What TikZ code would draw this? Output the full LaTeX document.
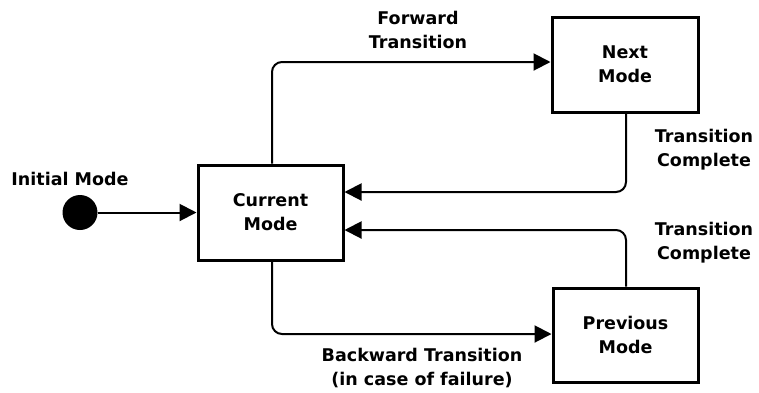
\documentclass[tikz,border=0pt]{standalone}
\usepackage{fontspec}
\setmainfont{DejaVu Sans}
\usetikzlibrary{arrows.meta}
\tikzset{
  modebox/.style={draw=black, line width=3pt, fill=white, align=center,
    font=\bfseries\fontsize{17.5}{24}\selectfont, inner sep=0pt},
  lbl/.style={align=center, font=\bfseries\fontsize{17.5}{24}\selectfont, inner sep=0pt},
  conn/.style={line width=2pt, rounded corners=10pt,
    -{Triangle[length=17pt,width=17pt]}},
}
\begin{document}
\begin{tikzpicture}[x=1pt,y=-1pt]
  \useasboundingbox (0,0) rectangle (759,392);

  % states
  \node[modebox, minimum width=145pt, minimum height=95pt] (cur)  at (270.5,212.5) {Current\\Mode};
  \node[modebox, minimum width=146pt, minimum height=95pt] (next) at (625,64.5)  {Next\\Mode};
  \node[modebox, minimum width=145pt, minimum height=94pt] (prev) at (625.5,335) {Previous\\Mode};

  % initial pseudo-state
  \node[circle, fill=black, minimum size=35pt, inner sep=0pt] (init) at (80,212.5) {};
  \node[lbl] (initlbl) at (70,179) {Initial Mode};

  % transitions
  \draw[conn] (init.east) -- (cur.west);
  \draw[conn] ([xshift=1.5pt]cur.north) |- (next.west |- 0,62);
  \draw[conn] ([xshift=1pt]next.south) |- ([yshift=20.5pt]cur.east);
  \draw[conn] ([xshift=0.5pt]prev.north) |- ([yshift=-17.5pt]cur.east);
  \draw[conn] ([xshift=1.5pt]cur.south) |- (prev.west |- 0,334);

  % transition labels
  \node[lbl] (fwd) at (418,30) {Forward\\Transition};
  \node[lbl] (tc1) at (704,150) {Transition\\Complete};
  \node[lbl] (tc2) at (704,243) {Transition\\Complete};
  \node[lbl] (bwd) at (422,368) {Backward Transition\\(in case of failure)};
\end{tikzpicture}
\end{document}
